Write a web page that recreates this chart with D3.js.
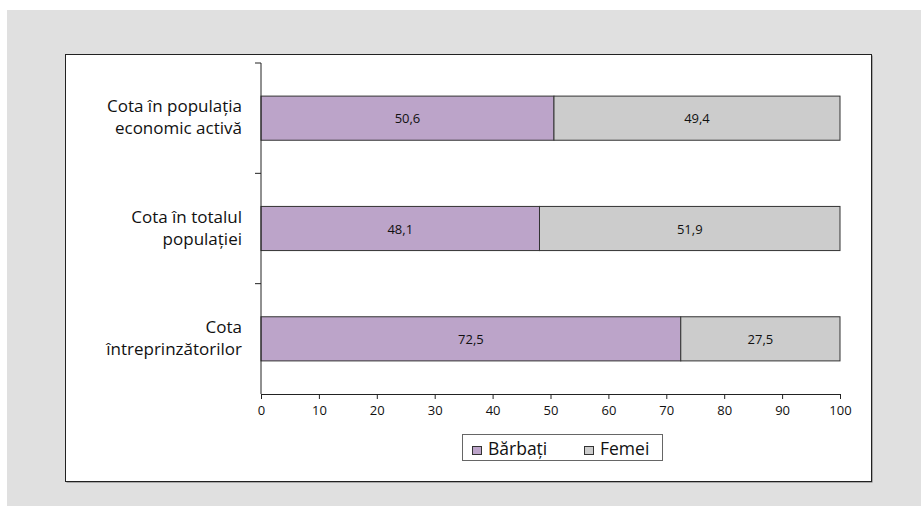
<!DOCTYPE html>
<html>
<head>
<meta charset="utf-8">
<script src="https://cdn.jsdelivr.net/npm/d3@7"></script>
<style>
  body { margin: 0; background: #fff; }
  svg { display: block; font-family: "Open Sans", "Noto Sans", sans-serif; }
</style>
</head>
<body>
<div id="viz"></div>
<script>
// data
var categories = [
  ["Cota în populația", "economic activă"],
  ["Cota în totalul", "populației"],
  ["Cota", "întreprinzătorilor"]
];
var barbati = [50.6, 48.1, 72.5];
var femei = [49.4, 51.9, 27.5];
var seriesNames = ["Bărbați", "Femei"];
var xTicks = [0, 10, 20, 30, 40, 50, 60, 70, 80, 90, 100];

var width = 921, height = 506;
var colors = ["#bca4c9", "#cccccc"];

var svg = d3.select("#viz").append("svg")
    .attr("width", width)
    .attr("height", height);

// gray page + white chart frame
svg.append("rect").attr("x", 7).attr("y", 10).attr("width", width - 7).attr("height", height - 10)
    .attr("fill", "#e0e0e0");
svg.append("rect").attr("x", 66.5).attr("y", 55.5).attr("width", 806).attr("height", 427)
    .attr("fill", "#6e6e6e");
svg.append("rect").attr("x", 65.5).attr("y", 54.5).attr("width", 806).attr("height", 427)
    .attr("fill", "#fff").attr("stroke", "#222").attr("stroke-width", 1);

var plotLeft = 261, plotRight = 840, plotTop = 63, plotBottom = 394;

var xscale = d3.scaleLinear().domain([0, 100]).range([plotLeft, plotRight]);
var yscale = d3.scaleBand().domain(d3.range(categories.length)).range([plotTop, plotBottom]);
var barH = yscale.step() * 0.4;

var stacked = d3.stack().keys([0, 1]).value(function(d, k) { return k === 0 ? barbati[d] : femei[d]; })(d3.range(categories.length));

// bars
stacked.forEach(function(layer, k) {
    svg.append("g").selectAll("rect")
        .data(layer)
        .enter()
        .append("rect")
        .attr("x", function(d) { return xscale(d[0]); })
        .attr("y", function(d, i) { return yscale(i) + (yscale.step() - barH) / 2; })
        .attr("width", function(d) { return xscale(d[1]) - xscale(d[0]); })
        .attr("height", barH)
        .attr("fill", colors[k])
        .attr("stroke", "#333")
        .attr("stroke-width", 1);

    svg.append("g").selectAll("text")
        .data(layer)
        .enter()
        .append("text")
        .attr("x", function(d) { return (xscale(d[0]) + xscale(d[1])) / 2; })
        .attr("y", function(d, i) { return yscale(i) + yscale.step() / 2 + 5; })
        .attr("text-anchor", "middle")
        .attr("font-size", 13)
        .attr("fill", "#111")
        .text(function(d) { return d3.format(".1f")(d[1] - d[0]).replace(".", ","); });
});

// x axis
var xAxis = svg.append("g")
    .attr("transform", "translate(0," + plotBottom + ")")
    .call(d3.axisBottom(xscale).tickValues(xTicks).tickSize(5).tickSizeOuter(0).tickPadding(7));
xAxis.selectAll("text").attr("font-size", 13).attr("fill", "#111").attr("font-family", "Open Sans");
xAxis.selectAll("line, path").attr("stroke", "#222");

// y axis with ticks at band boundaries
svg.append("line").attr("x1", plotLeft).attr("x2", plotLeft).attr("y1", plotTop).attr("y2", plotBottom).attr("stroke", "#222");
svg.append("g").selectAll("line")
    .data(d3.range(categories.length))
    .enter()
    .append("line")
    .attr("x1", plotLeft - 6).attr("x2", plotLeft)
    .attr("y1", function(d) { return yscale(d); })
    .attr("y2", function(d) { return yscale(d); })
    .attr("stroke", "#222");

// category labels
svg.append("g").selectAll("text")
    .data(categories)
    .enter()
    .append("text")
    .attr("text-anchor", "end")
    .attr("font-size", 17)
    .attr("fill", "#111")
    .each(function(d, i) {
        var cy = yscale(i) + yscale.step() / 2;
        var t = d3.select(this);
        d.forEach(function(line, j) {
            t.append("tspan")
                .attr("x", 242)
                .attr("y", cy - 11 * (d.length - 1) + 22 * j + 5)
                .text(line);
        });
    });

// legend
var legend = svg.append("g");
legend.append("rect").attr("x", 462.5).attr("y", 434.5).attr("width", 200).attr("height", 26)
    .attr("fill", "#fff").attr("stroke", "#666");
var lx = [472, 584];
seriesNames.forEach(function(name, k) {
    legend.append("rect").attr("x", lx[k] + 0.5).attr("y", 446.5).attr("width", 9).attr("height", 8)
        .attr("fill", colors[k]).attr("stroke", "#333");
    legend.append("text").attr("x", lx[k] + 16).attr("y", 455)
        .attr("font-size", 17.5).attr("fill", "#111").text(name);
});
</script>
</body>
</html>
